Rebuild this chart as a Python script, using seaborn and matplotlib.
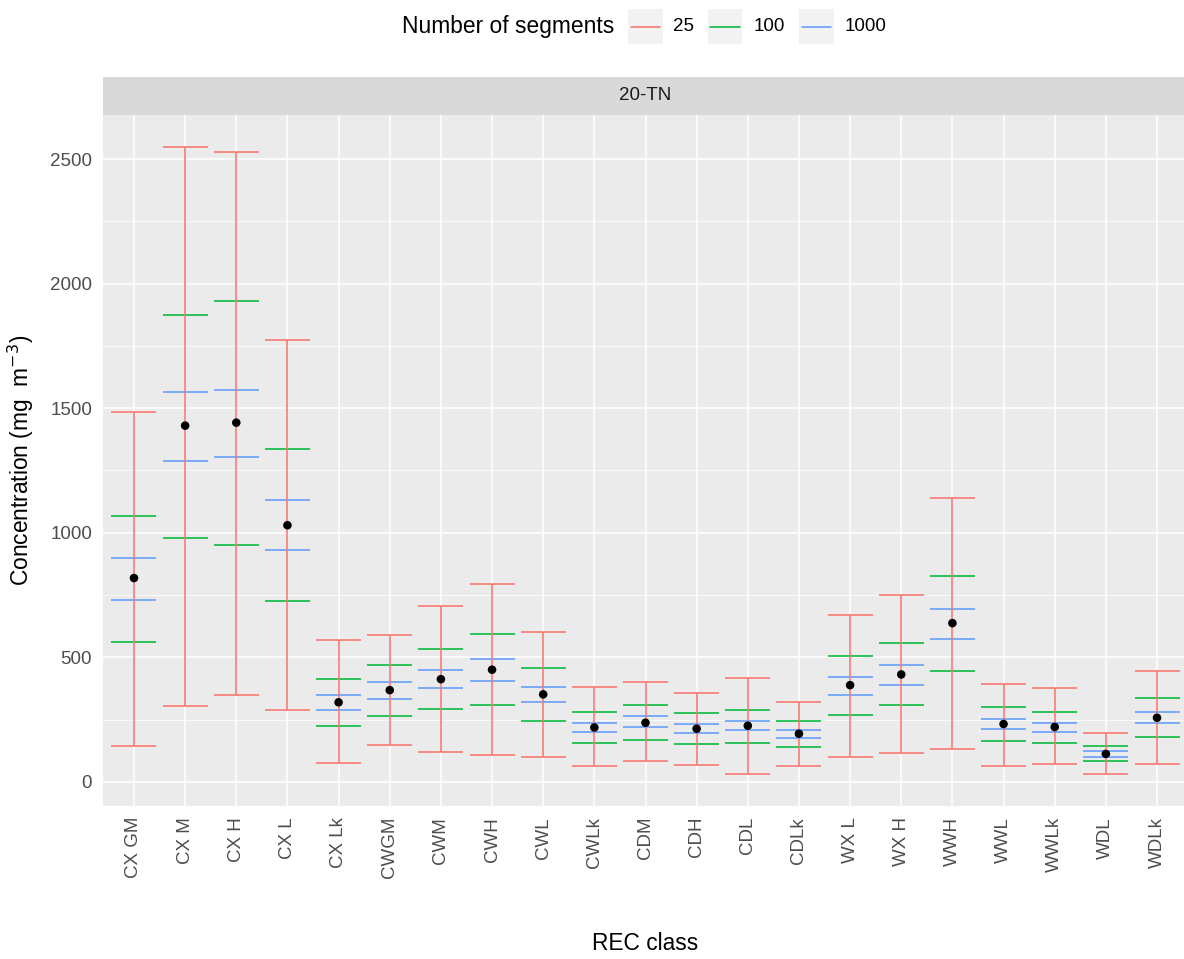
import numpy as np
import pandas as pd
import matplotlib
matplotlib.use("Agg")
import matplotlib.pyplot as plt
import seaborn as sns
from matplotlib.patches import Rectangle
from matplotlib.lines import Line2D
from matplotlib.ticker import MultipleLocator

# ---- data -------------------------------------------------------------
rec_class = ["CX GM", "CX M", "CX H", "CX L", "CX Lk", "CWGM", "CWM", "CWH",
             "CWL", "CWLk", "CDM", "CDH", "CDL", "CDLk", "WX L", "WX H",
             "WWH", "WWL", "WWLk", "WDL", "WDLk"]
segments = ["25", "100", "1000"]

mean_conc = [818, 1430, 1442, 1030, 319, 368, 412, 450, 351, 218, 237,
             213, 225, 193, 388, 431, 637, 232, 220, 112, 257]

lo_25 = [143, 305, 349, 288, 74, 149, 119, 106, 99, 62, 82,
         68, 31, 63, 100, 114, 131, 63, 70, 32, 70]
hi_25 = [1486, 2548, 2530, 1774, 568, 588, 706, 794, 600, 382, 399,
         355, 418, 319, 668, 750, 1138, 394, 375, 194, 443]

lo_100 = [561, 980, 949, 724, 224, 263, 293, 307, 243, 157, 169,
          150, 157, 138, 269, 307, 443, 162, 157, 82, 181]
hi_100 = [1068, 1873, 1930, 1336, 411, 469, 532, 593, 457, 281, 307,
          275, 287, 244, 506, 556, 825, 300, 281, 143, 337]

lo_1000 = [730, 1287, 1305, 929, 288, 331, 375, 406, 319, 200, 218,
           194, 206, 175, 349, 387, 574, 213, 200, 100, 237]
hi_1000 = [898, 1566, 1573, 1130, 349, 400, 450, 494, 382, 237, 263,
           232, 244, 206, 419, 469, 692, 251, 237, 124, 281]

seg_colors = {"25": "#F8766D", "100": "#00BA38", "1000": "#619CFF"}

# ---- tidy tables ------------------------------------------------------
pos = np.arange(len(rec_class))
means = pd.DataFrame({"rec_class": rec_class, "pos": pos, "conc": mean_conc})

intervals = pd.concat([
    pd.DataFrame({"rec_class": rec_class, "pos": pos, "segments": s,
                  "lo": lo, "hi": hi})
    for s, lo, hi in [("25", lo_25, hi_25), ("100", lo_100, hi_100),
                      ("1000", lo_1000, hi_1000)]
], ignore_index=True)

# ---- theme ------------------------------------------------------------
sns.set_theme(style="darkgrid", rc={
    "axes.facecolor": "#EBEBEB",
    "grid.color": "white",
    "axes.edgecolor": "none",
})
plt.rcParams["font.family"] = ["Liberation Sans", "DejaVu Sans"]

W, H = 1184, 959
fig = plt.figure(figsize=(W / 100, H / 100), dpi=100)

px_l, px_r, px_t, px_b = 103.3, 1187.7, 115.3, 805.7
ax = fig.add_axes([px_l / W, 1 - px_b / H, (px_r - px_l) / W, (px_b - px_t) / H])

# error bars: the narrower intervals sit inside the 25-segment stem,
# so only the caps of 100 / 1000 show; the 25 stem is drawn on top
half = 0.44
for seg in ["1000", "100", "25"]:
    d = intervals[intervals["segments"] == seg]
    c = seg_colors[seg]
    if seg == "25":
        ax.vlines(d["pos"], d["lo"], d["hi"], color=c, lw=1.15, zorder=4)
    ax.hlines(d["lo"], d["pos"] - half, d["pos"] + half, color=c, lw=1.15, zorder=3)
    ax.hlines(d["hi"], d["pos"] - half, d["pos"] + half, color=c, lw=1.15, zorder=3)

sns.scatterplot(data=means, x="pos", y="conc", color="black", s=38,
                edgecolor="none", zorder=5, ax=ax, legend=False)

ax.set_xlim(-0.6, len(rec_class) - 0.4)
ax.set_ylim(-96, 2676)
ax.set_xticks(pos)
ax.set_xticklabels(rec_class, rotation=90)
ax.yaxis.set_major_locator(MultipleLocator(500))
ax.yaxis.set_minor_locator(MultipleLocator(250))
ax.grid(which="major", color="white", lw=1.1)
ax.grid(which="minor", axis="y", color="white", lw=0.55)
ax.set_axisbelow(True)
for sp in ax.spines.values():
    sp.set_visible(False)
ax.tick_params(axis="both", which="major", length=4.3, width=0.8,
               color="#333333", labelcolor="#4D4D4D", labelsize=13.5, pad=3.8)
ax.tick_params(axis="both", which="minor", length=0)
ax.set_xlabel("")
ax.set_ylabel(r"Concentration (mg  m$^{-3}$)", fontsize=16.4, color="black",
              labelpad=10)

# facet strip
strip = fig.add_axes([px_l / W, 1 - px_t / H, (px_r - px_l) / W, (px_t - 76.7) / H])
strip.set_facecolor("#D9D9D9")
strip.set_xticks([])
strip.set_yticks([])
strip.grid(False)
for sp in strip.spines.values():
    sp.set_visible(False)
strip.text(0.5, 0.5, "20-TN", ha="center", va="center", fontsize=13.5,
           color="#1A1A1A", transform=strip.transAxes)

# x-axis title
fig.text(645.5 / W, 1 - 943 / H, "REC class", ha="center", va="center",
         fontsize=16.4, color="black")

# legend along the top
ly = 26.5
fig.text(401.7 / W, 1 - ly / H, "Number of segments", ha="left", va="center",
         fontsize=16.4, color="black")
key_left = {"25": 628.3, "100": 707.7, "1000": 799.3}
lab_left = {"25": 673.3, "100": 754.0, "1000": 845.0}
kw = 34.5
for seg in segments:
    x0 = key_left[seg]
    fig.add_artist(Rectangle((x0 / W, 1 - (ly + kw / 2) / H), kw / W, kw / H,
                             transform=fig.transFigure, facecolor="#F2F2F2",
                             edgecolor="none"))
    fig.add_artist(Line2D([(x0 + 2.5) / W, (x0 + kw - 2.5) / W],
                          [1 - ly / H, 1 - ly / H], transform=fig.transFigure,
                          color=seg_colors[seg], lw=1.15))
    fig.text(lab_left[seg] / W, 1 - ly / H, seg, ha="left", va="center",
             fontsize=13.5, color="black")

fig.savefig("out.png", dpi=100, facecolor="white")
